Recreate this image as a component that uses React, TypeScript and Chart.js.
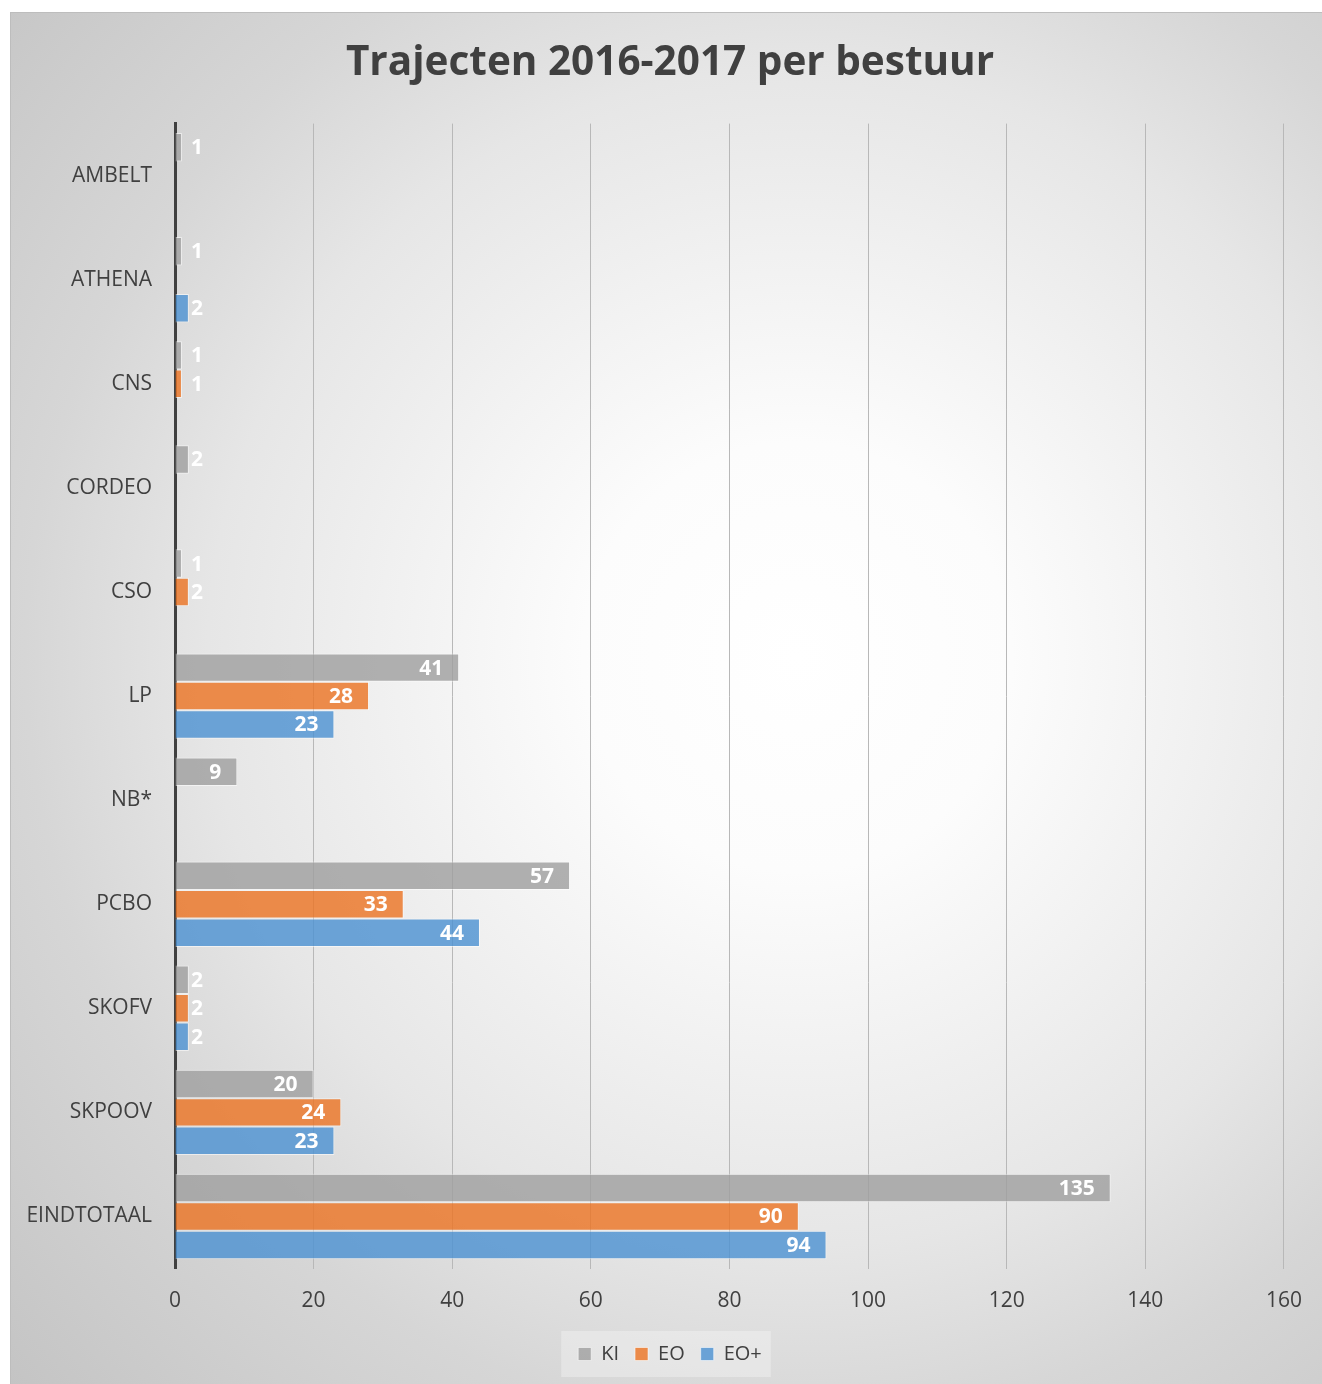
import React, { useEffect, useRef } from 'react';
import { Chart, registerables } from 'chart.js';

Chart.register(...registerables);

const chartTitle = 'Trajecten 2016-2017 per bestuur';
const categories = ['AMBELT', 'ATHENA', 'CNS', 'CORDEO', 'CSO', 'LP', 'NB*', 'PCBO', 'SKOFV', 'SKPOOV', 'EINDTOTAAL'];
const seriesNames = ['KI', 'EO', 'EO+'];
const kiValues: (number | null)[] = [1, 1, 1, 2, 1, 41, 9, 57, 2, 20, 135];
const eoValues: (number | null)[] = [null, null, 1, null, 2, 28, null, 33, 2, 24, 90];
const eoPlusValues: (number | null)[] = [null, 2, null, null, null, 23, null, 44, 2, 23, 94];
const xMin = 0;
const xMax = 160;
const xStep = 20;

const FONT = '"Open Sans", "Noto Sans", sans-serif';
const TEXT = '#404040';

const valueLabels = {
  id: 'valueLabels',
  afterDatasetsDraw(chart: any) {
    const { ctx, chartArea } = chart;
    ctx.save();
    ctx.font = `bold 21px ${FONT}`;
    ctx.fillStyle = '#ffffff';
    ctx.textAlign = 'right';
    ctx.textBaseline = 'middle';
    chart.data.datasets.forEach((ds: any, di: number) => {
      const meta = chart.getDatasetMeta(di);
      meta.data.forEach((el: any, i: number) => {
        const v = ds.data[i];
        if (v == null) return;
        const t = String(v);
        const w = ctx.measureText(t).width;
        const x = Math.max(el.x - 16, chartArea.left + 16 + w);
        ctx.fillText(t, x, el.y + 1);
      });
    });
    ctx.restore();
  },
};

const legendBackground = {
  id: 'legendBackground',
  beforeDraw(chart: any) {
    const lg = chart.legend;
    if (!lg || !lg.legendHitBoxes || !lg.legendHitBoxes.length) return;
    const boxes = lg.legendHitBoxes;
    const first = boxes[0];
    const last = boxes[boxes.length - 1];
    const cy = first.top + first.height / 2;
    const { ctx } = chart;
    ctx.save();
    ctx.fillStyle = 'rgba(255,255,255,0.3)';
    const left = first.left - 17;
    const right = last.left + last.width + 9;
    ctx.fillRect(left, cy - 23, right - left, 46);
    ctx.restore();
  },
};

export default function App() {
  const ref = useRef<HTMLCanvasElement | null>(null);

  useEffect(() => {
    if (!ref.current) return;
    const chart = new Chart(ref.current, {
      type: 'bar',
      data: {
        labels: categories,
        datasets: [
          {
            label: seriesNames[0],
            data: kiValues,
            backgroundColor: 'rgba(160,160,160,0.82)',
            borderColor: 'rgba(255,255,255,0.55)',
            borderWidth: 1,
          },
          {
            label: seriesNames[1],
            data: eoValues,
            backgroundColor: 'rgba(236,117,38,0.82)',
            borderColor: 'rgba(255,255,255,0.55)',
            borderWidth: 1,
          },
          {
            label: seriesNames[2],
            data: eoPlusValues,
            backgroundColor: 'rgba(78,146,210,0.82)',
            borderColor: 'rgba(255,255,255,0.55)',
            borderWidth: 1,
          },
        ],
      },
      options: {
        indexAxis: 'y',
        responsive: false,
        animation: false,
        devicePixelRatio: 1,
        datasets: { bar: { categoryPercentage: 0.82, barPercentage: 1 } },
        layout: { padding: { left: 8, right: 0, top: 0, bottom: 10 } },
        plugins: {
          title: {
            display: true,
            text: chartTitle,
            color: TEXT,
            font: { family: FONT, size: 40.5, weight: 'bold', lineHeight: 1.2 },
            padding: { top: 27, bottom: 36 },
          },
          legend: {
            position: 'bottom',
            labels: {
              color: TEXT,
              font: { family: FONT, size: 20 },
              boxWidth: 13,
              boxHeight: 13,
              padding: 16,
            },
          },
          tooltip: { enabled: false },
        },
        scales: {
          x: {
            type: 'linear',
            min: xMin,
            max: xMax,
            ticks: { stepSize: xStep, color: TEXT, font: { family: FONT, size: 21 }, padding: 20 },
            grid: { color: '#b8b8b8', lineWidth: 1, drawTicks: false },
            border: { display: false },
            afterFit(s: any) {
              s.height = 59.5;
            },
          },
          y: {
            ticks: { color: TEXT, font: { family: FONT, size: 21 }, padding: 23 },
            grid: { display: false, drawTicks: false },
            border: { display: true, color: '#404040', width: 3 },
            afterFit(s: any) {
              s.width = 157;
            },
          },
          rightPad: {
            type: 'linear',
            position: 'right',
            display: true,
            ticks: { display: false },
            grid: { display: false, drawTicks: false },
            border: { display: false },
            afterFit(s: any) {
              s.width = 37;
            },
          },
        },
      } as any,
      plugins: [valueLabels, legendBackground],
    });
    return () => chart.destroy();
  }, []);

  return (
    <div
      style={{
        position: 'absolute',
        left: 10,
        top: 12,
        width: 1312,
        height: 1372,
        background:
          'radial-gradient(circle farthest-corner at 60% 47%, #ffffff 0%, #fcfcfc 20%, #e6e6e6 55%, #d6d6d6 72%, #c4c4c4 100%)',
        boxShadow: 'inset 1px 1px 0 #bdbdbd',
      }}
    >
      <canvas ref={ref} width={1312} height={1372} style={{ display: 'block', width: 1312, height: 1372 }} />
    </div>
  );
}
